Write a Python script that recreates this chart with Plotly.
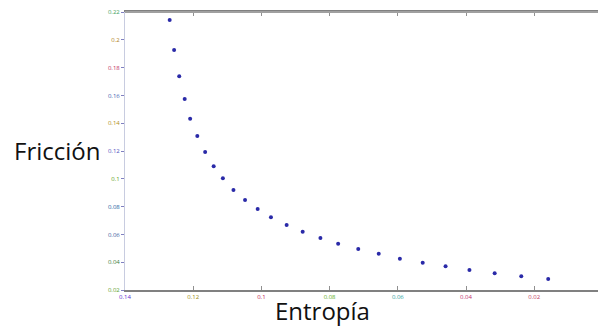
import plotly.graph_objects as go

entropia = [0.1269, 0.1256, 0.1241, 0.1225, 0.1209, 0.1188, 0.1165, 0.1140, 0.1113,
            0.1082, 0.1048, 0.1011, 0.0972, 0.0926, 0.0879, 0.0827, 0.0775, 0.0716,
            0.0656, 0.0594, 0.0527, 0.0460, 0.0390, 0.0316, 0.0238, 0.0159]
friccion = [0.2142, 0.1927, 0.1737, 0.1574, 0.1432, 0.1308, 0.1193, 0.1090, 0.1004,
            0.0919, 0.0847, 0.0783, 0.0723, 0.0668, 0.0619, 0.0574, 0.0533, 0.0495,
            0.0461, 0.0425, 0.0396, 0.0371, 0.0344, 0.0320, 0.0299, 0.0279]

x_ticks = [0.14, 0.12, 0.1, 0.08, 0.06, 0.04, 0.02]
x_labels = ["0.14", "0.12", "0.1", "0.08", "0.06", "0.04", "0.02"]
y_ticks = [0.02, 0.04, 0.06, 0.08, 0.1, 0.12, 0.14, 0.16, 0.18, 0.2, 0.22]
y_labels = ["0.02", "0.04", "0.06", "0.08", "0.1", "0.12", "0.14", "0.16", "0.18", "0.2", "0.22"]

x_colors = ["#5a2bd0", "#9a8a10", "#c02050", "#60b020", "#30a0a0", "#c03070", "#c04060"]
y_colors = ["#60a030", "#408040", "#4060a0", "#2060a0", "#60a020", "#5050c0",
            "#b09020", "#4060b0", "#c03060", "#b08020", "#40a060"]

def colored(labels, colors):
    return [f'<span style="color:{c}">{t}</span>' for t, c in zip(labels, colors)]

fig = go.Figure()
fig.add_trace(go.Scatter(
    x=entropia, y=friccion, mode="markers",
    marker=dict(size=4, color="#2a2aa8"),
    showlegend=False,
))

L, T, W, H = 125, 12, 473, 278

fig.update_layout(
    width=598, height=326,
    margin=dict(l=L, r=0, t=T, b=326 - T - H, autoexpand=False),
    paper_bgcolor="white", plot_bgcolor="white",
    font=dict(family="Open Sans, sans-serif"),
    xaxis=dict(
        range=[0.14, 0.0013], tickvals=x_ticks, ticktext=colored(x_labels, x_colors),
        tickfont=dict(size=6), showgrid=False, zeroline=False, automargin=False,
        showline=True, linecolor="#808080", linewidth=1.5,
        ticks="inside", ticklen=4, tickcolor="#909090", mirror="ticks",
    ),
    yaxis=dict(
        range=[0.02, 0.22], tickvals=y_ticks, ticktext=colored(y_labels, y_colors),
        tickfont=dict(size=6), showgrid=False, zeroline=False, automargin=False,
        showline=True, linecolor="#c8cce0", linewidth=1,
        ticks="outside", ticklen=3, tickcolor="#8080c0",
    ),
    annotations=[
        dict(text="Fricción", xref="paper", yref="paper",
             x=(57 - L) / W, y=(290 - 150) / H, xanchor="center", yanchor="middle",
             showarrow=False, font=dict(size=24, color="#111111")),
        dict(text="Entropía", xref="paper", yref="paper",
             x=(322 - L) / W, y=(290 - 310) / H, xanchor="center", yanchor="middle",
             showarrow=False, font=dict(size=24, color="#111111")),
    ],
)
fig.add_shape(type="line", xref="paper", yref="paper", x0=0, x1=1, y0=1, y1=1,
              line=dict(color="#a0a0a0", width=2))

fig.write_html("out.html", config={"displayModeBar": False},
               post_script="document.body.style.margin='0';document.body.style.overflow='hidden';")
